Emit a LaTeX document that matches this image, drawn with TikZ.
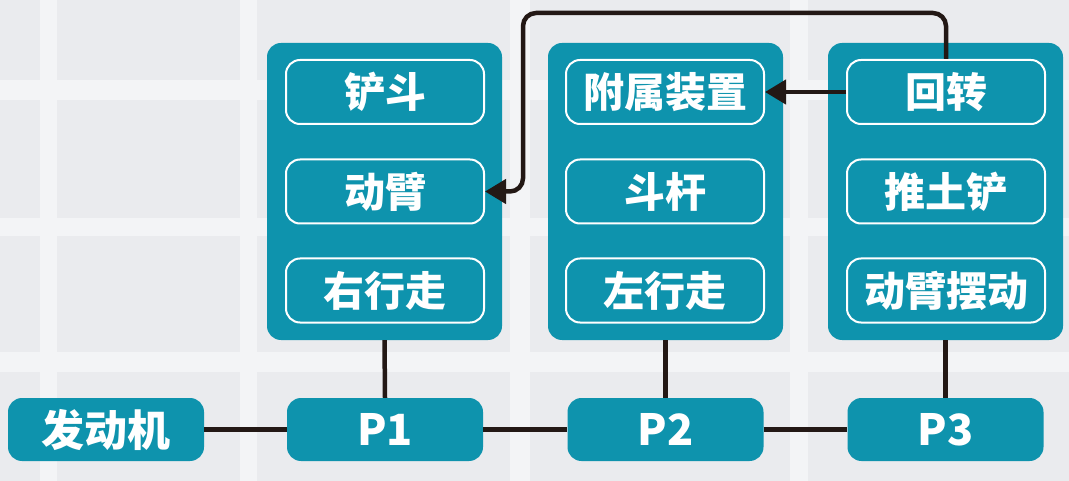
\documentclass[tikz,border=0pt]{standalone}
\usepackage{fontspec}
\newfontfamily\cjk{Noto Sans CJK SC}
\usetikzlibrary{arrows.meta}
\definecolor{teal1}{HTML}{0E93AD}
\definecolor{bgc}{HTML}{EAEBEE}
\definecolor{band}{HTML}{F3F4F6}
\definecolor{linec}{HTML}{231815}
\tikzset{
  outerbox/.style={fill=teal1, draw=none, rounded corners=14pt, minimum width=235pt, minimum height=297pt, inner sep=0pt},
  innerbox/.style={fill=teal1, draw=white, line width=2pt, rounded corners=14pt, minimum width=198pt, minimum height=64pt, inner sep=0pt, text=white, font=\cjk\bfseries\fontsize{41}{44}\selectfont},
  pbox/.style={fill=teal1, draw=none, rounded corners=14pt, minimum width=196pt, minimum height=63pt, inner sep=0pt, text=white, font=\cjk\bfseries\fontsize{43}{46}\selectfont},
  conn/.style={draw=linec, line width=4.5pt},
  arr/.style={draw=linec, line width=4.5pt, rounded corners=13pt, -{Triangle[length=21pt,width=24pt]}},
}
\begin{document}
\begin{tikzpicture}[x=1pt,y=-1pt]
\useasboundingbox (0,0) rectangle (1069,481);
% background
\fill[bgc] (0,0) rectangle (1069,481);
\fill[band] (0,80) rectangle (1069,100);
\fill[band] (0,218) rectangle (1069,236);
\fill[band] (0,352) rectangle (1069,372);
\fill[band] (40,0) rectangle (57,481);
\fill[band] (240,0) rectangle (257,481);
\fill[band] (510,0) rectangle (530,481);
\fill[band] (790,0) rectangle (808,481);
% outer groups
\node[outerbox] (g1) at (384.5,191.5) {};
\node[outerbox] (g2) at (665.5,191.5) {};
\node[outerbox] (g3) at (945.5,191.5) {};
% inner boxes
\node[innerbox] (a1) at (385,92) {铲斗};
\node[innerbox] (a2) at (385,191.5) {动臂};
\node[innerbox] (a3) at (385,290.5) {右行走};
\node[innerbox] (b1) at (665,92) {附属装置};
\node[innerbox] (b2) at (665,191.5) {斗杆};
\node[innerbox] (b3) at (665,290.5) {左行走};
\node[innerbox] (c1) at (946,92) {回转};
\node[innerbox] (c2) at (946,191.5) {推土铲};
\node[innerbox] (c3) at (946,290.5) {动臂摆动};
% bottom row
\node[pbox] (eng) at (106,429.5) {发动机};
\node[pbox] (p1) at (385,429.5) {P1};
\node[pbox] (p2) at (665.5,429.5) {P2};
\node[pbox] (p3) at (945.5,429.5) {P3};
% connectors
\draw[conn] (eng.east) -- (p1.west);
\draw[conn] (p1.east) -- (p2.west);
\draw[conn] (p2.east) -- (p3.west);
\draw[conn] (p1.north) -- (g1.south);
\draw[conn] (p2.north) -- (g2.south);
\draw[conn] (p3.north) -- (g3.south);
\draw[arr] (c1.west) -- (b1.east);
\coordinate (t1) at (946,13);
\coordinate (t2) at (523,13);
\coordinate (t3) at (523,191.5);
\draw[arr] (c1.north) -- (t1) -- (t2) -- (t3) -- (a2.east);
\end{tikzpicture}
\end{document}
